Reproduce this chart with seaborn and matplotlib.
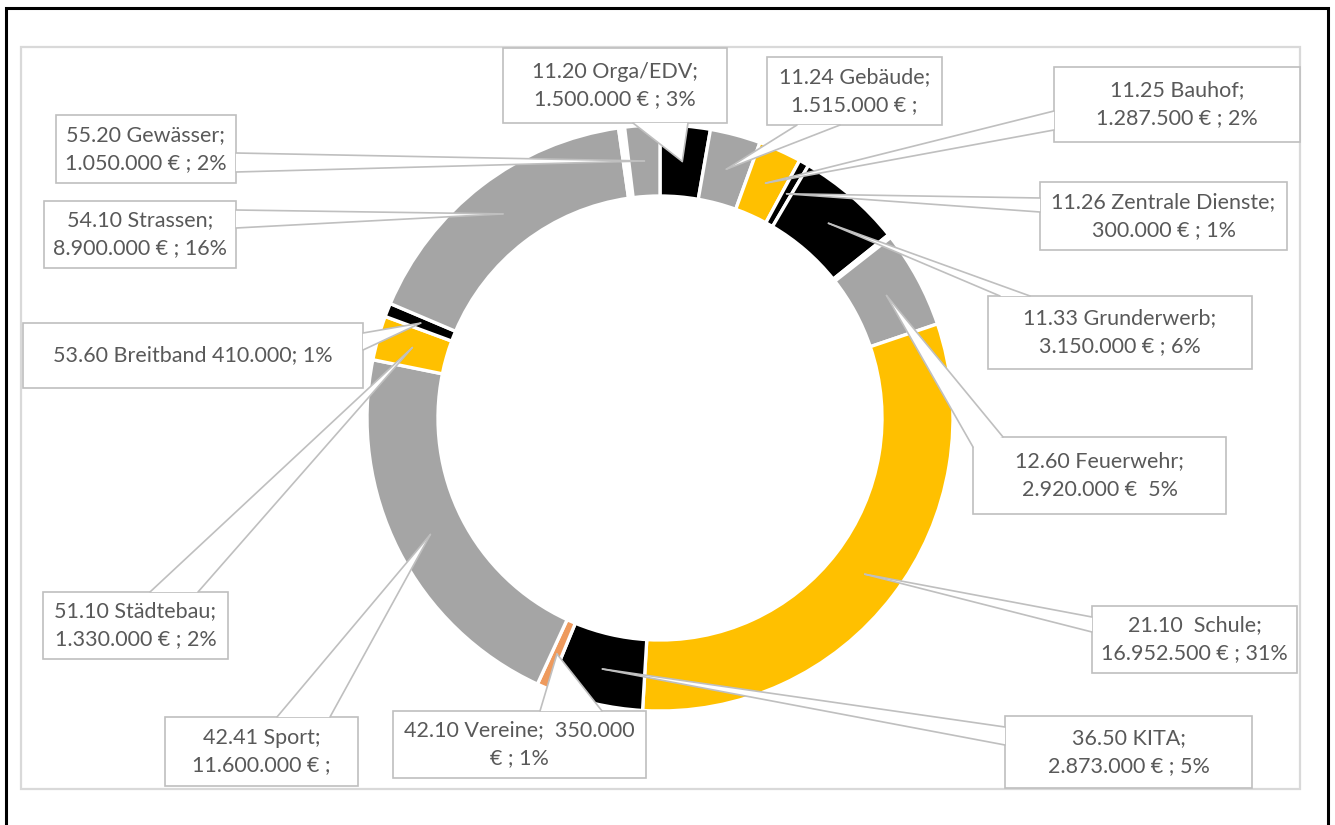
import numpy as np
import pandas as pd
import matplotlib
matplotlib.use("Agg")
import matplotlib.pyplot as plt
from matplotlib.patches import Rectangle, Polygon
import seaborn as sns

# Budget items (clockwise from 12 o'clock)
codes = ["11.20", "11.24", "11.25", "11.26", "11.33", "", "12.60", "21.10",
         "36.50", "42.10", "42.41", "51.10", "53.60", "54.10", "", "55.20"]
names = ["Orga/EDV", "Gebäude", "Bauhof", "Zentrale Dienste", "Grunderwerb", "",
         "Feuerwehr", "Schule", "KITA", "Vereine", "Sport", "Städtebau",
         "Breitband", "Strassen", "", "Gewässer"]
values = [1500000, 1515000, 1287500, 300000, 3150000, 100000, 2920000, 16952500,
          2873000, 350000, 11600000, 1330000, 410000, 8900000, 180000, 1050000]
colors = ["#000000", "#A5A5A5", "#FFC000", "#000000", "#000000", "#FFC000",
          "#A5A5A5", "#FFC000", "#000000", "#EE9A5D", "#A5A5A5", "#FFC000",
          "#000000", "#A5A5A5", "#FFFFFF", "#A5A5A5"]

# label texts as shown in the chart
label_lines = {
    "Orga/EDV": ["11.20 Orga/EDV;", "1.500.000 € ; 3%"],
    "Gebäude": ["11.24 Gebäude;", "1.515.000 € ;"],
    "Bauhof": ["11.25 Bauhof;", "1.287.500 € ; 2%"],
    "Zentrale Dienste": ["11.26 Zentrale Dienste;", "300.000 € ; 1%"],
    "Grunderwerb": ["11.33 Grunderwerb;", "3.150.000 € ; 6%"],
    "Feuerwehr": ["12.60 Feuerwehr;", "2.920.000 €  5%"],
    "Schule": ["21.10  Schule;", "16.952.500 € ; 31%"],
    "KITA": ["36.50 KITA;", "2.873.000 € ; 5%"],
    "Vereine": ["42.10 Vereine;  350.000", "€ ; 1%"],
    "Sport": ["42.41 Sport;", "11.600.000 € ;"],
    "Städtebau": ["51.10 Städtebau;", "1.330.000 € ; 2%"],
    "Breitband": ["53.60 Breitband 410.000; 1%"],
    "Strassen": ["54.10 Strassen;", "8.900.000 € ; 16%"],
    "Gewässer": ["55.20 Gewässer;", "1.050.000 € ; 2%"],
}

# callout boxes in pixels (x0, y0, x1, y1 from top-left) and wedge base points
boxes = {
    "Orga/EDV": ((503, 48, 727, 123), (633, 123), (688, 123)),
    "Gebäude": ((767, 57, 942, 125), (797, 125), (840, 125)),
    "Bauhof": ((1054, 67, 1300, 142), (1054, 111), (1054, 130)),
    "Zentrale Dienste": ((1040, 182, 1287, 250), (1040, 198), (1040, 212)),
    "Grunderwerb": ((988, 296, 1252, 369), (1000, 296), (1030, 296)),
    "Feuerwehr": ((973, 437, 1226, 514), (973, 447), (1003, 437)),
    "Schule": ((1092, 606, 1297, 673), (1092, 617), (1092, 632)),
    "KITA": ((1005, 716, 1252, 788), (1005, 727), (1005, 745)),
    "Vereine": ((393, 711, 646, 778), (540, 711), (602, 711)),
    "Sport": ((165, 717, 358, 786), (277, 717), (330, 717)),
    "Städtebau": ((43, 592, 228, 659), (150, 592), (198, 592)),
    "Breitband": ((23, 323, 363, 388), (363, 333), (363, 350)),
    "Strassen": ((44, 201, 236, 268), (236, 210), (236, 228)),
    "Gewässer": ((56, 115, 236, 183), (236, 153), (236, 172)),
}

sns.set_theme(style="white")
plt.rcParams["font.family"] = ["Lato", "DejaVu Sans"]

W, H = 1335, 825
fig = plt.figure(figsize=(W / 100, H / 100), dpi=100)
ax = fig.add_axes([0, 0, 1, 1])

def P(x, y):
    return (x, H - y)

cx, cy = 660, 418
R, ring = 293, 71

wedges, _ = ax.pie(values, colors=colors, startangle=90, counterclock=False,
                   radius=R, center=P(cx, cy),
                   wedgeprops=dict(width=ring, edgecolor="white", linewidth=2.4))

ax.set_xlim(0, W)
ax.set_ylim(0, H)
ax.set_aspect("equal")
ax.axis("off")

# borders
ax.add_patch(Rectangle(P(6, 830), 1322, 822, fill=False, edgecolor="black", lw=2.2, zorder=1))
ax.add_patch(Rectangle(P(21, 789), 1279, 742, fill=False, edgecolor="#D9D9D9", lw=1.6, zorder=1))

line_col = "#BFBFBF"
text_col = "#595959"
r_mid = R - ring / 2
for w, name in zip(wedges, names):
    if name not in boxes:
        continue
    ang = np.deg2rad((w.theta1 + w.theta2) / 2)
    tip = (w.center[0] + r_mid * np.cos(ang), w.center[1] + r_mid * np.sin(ang))
    (x0, y0, x1, y1), b1, b2 = boxes[name]
    ax.add_patch(Rectangle(P(x0, y1), x1 - x0, y1 - y0, facecolor="white",
                           edgecolor=line_col, lw=1.2, zorder=5))
    ax.add_patch(Polygon([P(*b1), P(*b2), tip], closed=True, facecolor="white",
                         edgecolor="none", zorder=6))
    for b in (b1, b2):
        bx, by = P(*b)
        ax.plot([bx, tip[0]], [by, tip[1]], color=line_col, lw=1.2, zorder=7)
    lines = label_lines[name]
    ymid = (y0 + y1) / 2
    offs = [0] if len(lines) == 1 else [-14, 14]
    for txt, off in zip(lines, offs):
        ax.text(*P((x0 + x1) / 2, ymid + off), txt, ha="center", va="center",
                fontsize=15.5, color=text_col, zorder=8)

fig.savefig("out.png", dpi=100)
